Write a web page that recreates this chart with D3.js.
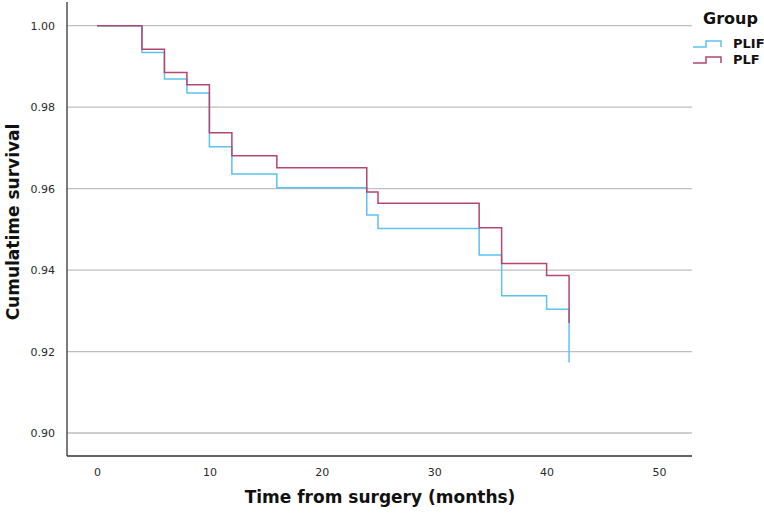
<!DOCTYPE html>
<html>
<head>
<meta charset="utf-8">
<script src="https://cdn.jsdelivr.net/npm/d3@7"></script>
<style>
  body { margin: 0; background: #fff; }
  text { font-family: "DejaVu Sans", sans-serif; }
</style>
</head>
<body>
<svg id="chart" width="764" height="513"></svg>
<script>
// Kaplan-Meier steps
const months = [0, 4, 6, 8, 10, 12, 16, 24, 25, 34, 36, 40, 42];
const plifSurvival = [1, 0.9934, 0.9869, 0.9835, 0.9703, 0.9636, 0.9602, 0.9535, 0.9502, 0.9437, 0.9337, 0.9304, 0.9173];
const plfSurvival = [1, 0.9942, 0.9885, 0.9855, 0.9737, 0.9681, 0.9651, 0.9592, 0.9564, 0.9504, 0.9416, 0.9387, 0.9270];
const groups = ["PLIF", "PLF"];
const xTicks = [0, 10, 20, 30, 40, 50];
const yTicks = [0.90, 0.92, 0.94, 0.96, 0.98, 1.00];

const colors = { PLIF: "#5bc2f2", PLF: "#b4466f" };

const svg = d3.select("#chart");
const plot = { left: 67, right: 692, top: 2, bottom: 456 };

const x = d3.scaleLinear().domain([0, 50]).range([97, 659]);
const y = d3.scaleLinear().domain([0.90, 1.00]).range([433, 25.7]);

// gridlines
svg.append("g")
  .selectAll("line")
  .data(yTicks)
  .join("line")
  .attr("x1", plot.left)
  .attr("x2", plot.right)
  .attr("y1", (d) => y(d))
  .attr("y2", (d) => y(d))
  .attr("stroke", "#bfbfbf")
  .attr("stroke-width", 1.3);

// axes (labels only, lines drawn separately)
const yAxis = svg.append("g")
  .attr("transform", `translate(${plot.left - 9}, 0)`)
  .call(d3.axisLeft(y).tickValues(yTicks).tickSize(0).tickFormat(d3.format(".2f")));
yAxis.select(".domain").remove();
yAxis.selectAll("text")
  .attr("font-size", 11)
  .attr("font-family", "DejaVu Sans, sans-serif")
  .attr("fill", "#2a2a2a");

const xAxis = svg.append("g")
  .attr("transform", `translate(0, ${plot.bottom + 9})`)
  .call(d3.axisBottom(x).tickValues(xTicks).tickSize(0).tickFormat(d3.format("d")));
xAxis.select(".domain").remove();
xAxis.selectAll("text")
  .attr("font-size", 11)
  .attr("font-family", "DejaVu Sans, sans-serif")
  .attr("fill", "#2a2a2a");

svg.append("line")
  .attr("x1", plot.left).attr("x2", plot.left)
  .attr("y1", plot.top).attr("y2", plot.bottom)
  .attr("stroke", "#333").attr("stroke-width", 1.3);
svg.append("line")
  .attr("x1", plot.left).attr("x2", plot.right)
  .attr("y1", plot.bottom).attr("y2", plot.bottom)
  .attr("stroke", "#333").attr("stroke-width", 1.3);

// survival curves
const step = d3.line()
  .x((d) => x(d[0]))
  .y((d) => y(d[1]))
  .curve(d3.curveStepAfter);

const series = [
  { name: "PLIF", values: plifSurvival },
  { name: "PLF", values: plfSurvival },
];

svg.append("g")
  .selectAll("path")
  .data(series)
  .join("path")
  .attr("fill", "none")
  .attr("stroke", (d) => colors[d.name])
  .attr("stroke-width", 1.5)
  .attr("d", (d) => step(months.map((m, i) => [m, d.values[i]])));

// axis titles
svg.append("text")
  .attr("x", 380)
  .attr("y", 503)
  .attr("text-anchor", "middle")
  .attr("font-family", "Open Sans, sans-serif")
  .attr("font-weight", "bold")
  .attr("font-size", 17)
  .attr("fill", "#111")
  .text("Time from surgery (months)");

svg.append("text")
  .attr("transform", "translate(19, 222) rotate(-90)")
  .attr("text-anchor", "middle")
  .attr("font-family", "Open Sans, sans-serif")
  .attr("font-weight", "bold")
  .attr("font-size", 17)
  .attr("fill", "#111")
  .text("Cumulatime survival");

// legend
const legend = svg.append("g").attr("transform", "translate(693, 0)");
legend.append("text")
  .attr("x", 10)
  .attr("y", 24)
  .attr("font-family", "Open Sans, sans-serif")
  .attr("font-weight", "bold")
  .attr("font-size", 16)
  .attr("fill", "#111")
  .text("Group");

const item = legend.selectAll("g.item")
  .data(groups)
  .join("g")
  .attr("class", "item")
  .attr("transform", (d, i) => `translate(0, ${47 + i * 16})`);

item.append("path")
  .attr("fill", "none")
  .attr("stroke", (d) => colors[d])
  .attr("stroke-width", 1.5)
  .attr("d", "M0,0H13V-6H28V0");

item.append("text")
  .attr("x", 40)
  .attr("y", 1)
  .attr("font-family", "Open Sans, sans-serif")
  .attr("font-weight", "bold")
  .attr("font-size", 13)
  .attr("fill", "#111")
  .text((d) => d);
</script>
</body>
</html>
